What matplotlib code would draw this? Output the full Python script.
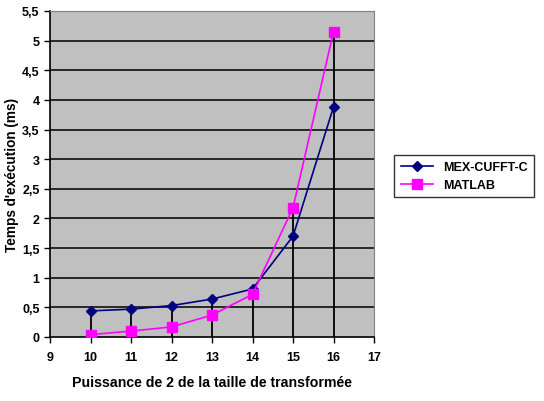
import numpy as np
import matplotlib.pyplot as plt

x = [10, 11, 12, 13, 14, 15, 16]
mex = [0.44, 0.47, 0.53, 0.64, 0.81, 1.70, 3.88]
matlab = [0.04, 0.10, 0.17, 0.37, 0.72, 2.18, 5.15]
yticks = np.arange(0, 5.51, 0.5)
ylabels = [('%g' % v).replace('.', ',') for v in yticks]

plt.rcParams['font.family'] = ['Liberation Sans', 'DejaVu Sans']
fig = plt.figure(figsize=(5.44, 4.02), dpi=100)
ax = fig.add_axes([50/544, 1-338/402, 324/544, 326/402])
ax.set_facecolor('#c0c0c0')

# drop lines from axis up to the highest point
ax.vlines(x, 0, np.maximum(mex, matlab), colors='black', lw=1.3, zorder=2)
for v in yticks[1:]:
	ax.axhline(v, color='black', lw=1.1, zorder=1)

ax.plot(x, mex, color='#000080', marker='D', ms=5, lw=1.2, label='MEX-CUFFT-C', zorder=3)
ax.plot(x, matlab, color='#ff00ff', marker='s', ms=7, lw=1.2, label='MATLAB', zorder=3)

ax.set_xlim(9, 17)
ax.set_ylim(0, 5.5)
ax.set_xticks(range(9, 18))
ax.set_yticks(yticks)
ax.set_yticklabels(ylabels)
ax.tick_params(labelsize=9, width=1, length=4, colors='black')
for lab in ax.get_xticklabels() + ax.get_yticklabels():
	lab.set_fontweight('bold')
ax.tick_params(axis='x', pad=6)
for s in ['top', 'right']:
	ax.spines[s].set_color('#808080')
for s in ['left', 'bottom']:
	ax.spines[s].set_color('black')
	ax.spines[s].set_linewidth(1.2)

ax.set_xlabel('Puissance de 2 de la taille de transformée', fontsize=10.2, fontweight='bold', labelpad=9)
ax.set_ylabel("Temps d'exécution (ms)", fontsize=9.8, fontweight='bold', labelpad=2)

leg = fig.legend(loc='upper left', bbox_to_anchor=(388/544, 1-150/402),
	prop={'weight': 'bold', 'size': 9}, frameon=True, fancybox=False, edgecolor='black',
	handlelength=2.6, borderpad=0.5, labelspacing=0.45)
leg.get_frame().set_linewidth(1)

plt.savefig('out.png', dpi=100)
